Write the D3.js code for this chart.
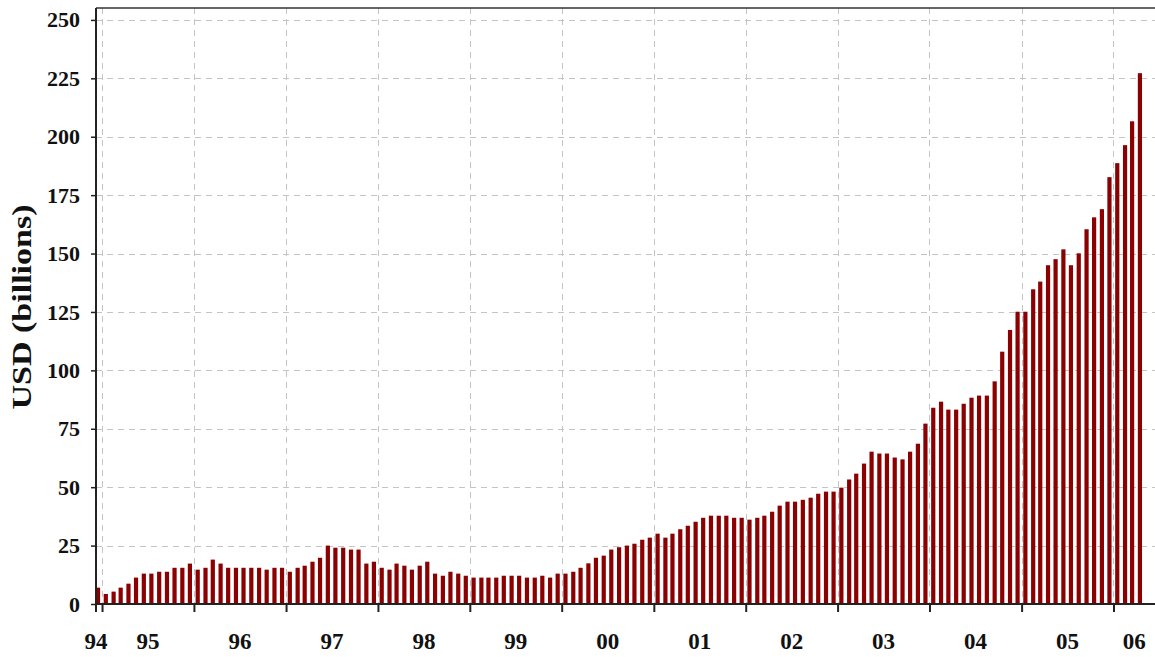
<!DOCTYPE html>
<html>
<head>
<meta charset="utf-8">
<script src="https://cdn.jsdelivr.net/npm/d3@7"></script>
<style>
  body { margin: 0; background: #fff; }
  svg { display: block; }
  text { font-family: "Liberation Serif", "Times New Roman", serif; font-weight: bold; fill: #111; }
</style>
</head>
<body>
<div id="chart"></div>
<script>
// monthly values, USD billions, starting Dec 1994
const startYear = 1994;
const startMonth = 11; // December (0-based)
const values = [
  7.0,
  4.3, 5.3, 7.0, 8.7, 11.3, 13.0, 13.0, 13.8, 13.8, 15.5, 15.5, 17.3,
  14.7, 15.5, 19.0, 17.3, 15.5, 15.5, 15.5, 15.5, 15.5, 14.7, 15.5, 15.5,
  13.8, 15.5, 16.4, 18.1, 19.8, 25.0, 24.1, 24.1, 23.3, 23.3, 17.3, 18.1,
  15.5, 14.7, 17.3, 16.4, 14.7, 16.4, 18.1, 13.0, 12.1, 13.8, 13.0, 12.1,
  11.3, 11.3, 11.3, 11.3, 12.1, 12.1, 12.1, 11.3, 11.3, 12.1, 11.3, 13.0,
  13.0, 13.8, 15.5, 17.4, 19.8, 20.7, 23.3, 24.3, 25.0, 25.8, 27.5, 28.4,
  30.1, 28.4, 30.1, 32.0, 33.5, 35.2, 36.9, 37.8, 37.8, 37.8, 36.9, 36.9,
  36.1, 36.9, 37.8, 39.5, 42.1, 43.8, 43.8, 44.6, 45.5, 47.2, 48.1, 48.1,
  49.8, 53.3, 55.8, 60.1, 65.2, 64.4, 64.4, 62.7, 61.9, 65.2, 68.6, 77.2,
  84.0, 86.6, 83.2, 83.2, 85.7, 88.3, 89.2, 89.2, 95.3, 108.0, 117.3, 125.1,
  125.1, 134.7, 138.0, 145.0, 147.6, 151.8, 145.0, 150.1, 160.4, 165.5, 169.0, 182.7,
  188.7, 196.4, 206.6, 227.2
];
const yTicks = [0, 25, 50, 75, 100, 125, 150, 175, 200, 225, 250];
const yearLabels = ['94', '95', '96', '97', '98', '99', '00', '01', '02', '03', '04', '05', '06'];
const yTitle = 'USD (billions)';

const data = values.map((v, i) => ({ date: new Date(startYear, startMonth + i, 1), value: v }));

const W = 1155, H = 657;
const plot = { left: 96, right: 1152, top: 8, bottom: 604 };

const svg = d3.select('#chart').append('svg')
  .attr('width', W)
  .attr('height', H);

const x = d3.scaleTime()
  .domain([new Date(1994, 11, 8), new Date(2006, 5, 3)])
  .range([plot.left, plot.right]);

const y = d3.scaleLinear()
  .domain([0, 255.1])
  .range([plot.bottom, plot.top]);

const yearStarts = d3.range(1995, 2007).map(yr => new Date(yr, 0, 1));

// grid
const grid = svg.append('g')
  .attr('stroke', '#c4c4c4')
  .attr('stroke-width', 1)
  .attr('stroke-dasharray', '6,5');

grid.selectAll('.hgrid')
  .data(yTicks.filter(d => d > 0))
  .enter().append('line')
  .attr('x1', plot.left).attr('x2', W)
  .attr('y1', d => Math.round(y(d)) + 0.5)
  .attr('y2', d => Math.round(y(d)) + 0.5);

grid.selectAll('.vgrid')
  .data(yearStarts)
  .enter().append('line')
  .attr('x1', d => Math.round(x(d)) + 0.5)
  .attr('x2', d => Math.round(x(d)) + 0.5)
  .attr('y1', plot.top).attr('y2', plot.bottom);

// bars, centered mid-month
const barW = 4.2;
svg.selectAll('.bar')
  .data(data)
  .enter().append('rect')
  .attr('class', 'bar')
  .attr('x', d => {
    const mid = new Date(d.date.getFullYear(), d.date.getMonth(), 16);
    return x(mid) - barW / 2;
  })
  .attr('y', d => y(d.value))
  .attr('width', barW)
  .attr('height', d => y(0) - y(d.value))
  .attr('fill', '#8b0000');

// top frame line
svg.append('line')
  .attr('x1', plot.left).attr('x2', W)
  .attr('y1', plot.top).attr('y2', plot.top)
  .attr('stroke', '#333').attr('stroke-width', 1.5);

// y axis
const yAxis = svg.append('g')
  .attr('transform', `translate(${plot.left},0)`)
  .call(d3.axisLeft(y).tickValues(yTicks).tickSize(5).tickPadding(11).tickFormat(d3.format('d')));
yAxis.select('.domain').attr('stroke', '#222').attr('stroke-width', 2)
  .attr('d', `M0,${plot.top}V${plot.bottom + 8}`);
yAxis.selectAll('.tick line').attr('stroke', '#222').attr('stroke-width', 1.5);
yAxis.selectAll('text').attr('font-size', 22).attr('font-family', null).attr('fill', '#111');

// x axis, ticks at year boundaries
const xAxis = svg.append('g')
  .attr('transform', `translate(0,${plot.bottom})`)
  .call(d3.axisBottom(x).tickValues(yearStarts).tickSize(8).tickFormat(''));
xAxis.select('.domain').attr('stroke', '#222').attr('stroke-width', 2)
  .attr('d', `M${plot.left},0H${W}`);
xAxis.selectAll('.tick line').attr('stroke', '#222').attr('stroke-width', 2);

// year labels centered in each year span
const spans = yearLabels.map((lab, i) => {
  const yr = 1994 + i;
  const a = Math.max(x(new Date(yr, 0, 1)), plot.left);
  const b = Math.min(x(new Date(yr + 1, 0, 1)), W);
  return { lab, cx: yr === 1994 ? plot.left : (a + b) / 2 };
});

svg.selectAll('.year')
  .data(spans)
  .enter().append('text')
  .attr('class', 'year')
  .attr('x', d => d.cx)
  .attr('y', 649)
  .attr('text-anchor', 'middle')
  .attr('font-size', 23)
  .text(d => d.lab);

// axis title
svg.append('text')
  .attr('transform', `translate(31,307) rotate(-90)`)
  .attr('text-anchor', 'middle')
  .attr('font-size', 28)
  .attr('textLength', 205)
  .attr('lengthAdjust', 'spacingAndGlyphs')
  .text(yTitle);
</script>
</body>
</html>
